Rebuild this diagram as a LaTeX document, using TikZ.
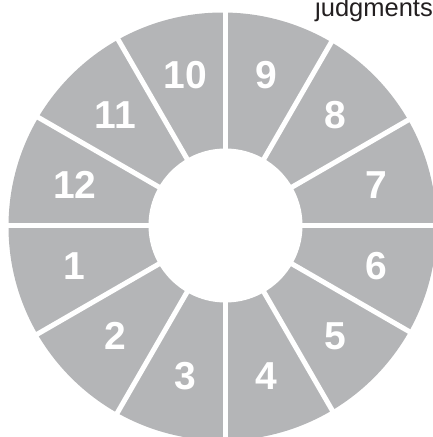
\documentclass[tikz,border=0pt]{standalone}
\usepackage{fontspec}
\setmainfont{Liberation Sans}
\usepackage{tikz}
\definecolor{dialgray}{RGB}{180,181,183}
\definecolor{textdark}{RGB}{35,31,32}

\begin{document}
\begin{tikzpicture}[
  x=1pt, y=1pt,
  num/.style={text=white, font=\fontsize{39}{39}\selectfont\bfseries, inner sep=0pt},
  gap/.style={white, line width=5pt},
  caption/.style={text=textdark, font=\fontsize{25.5}{25.5}\selectfont, inner sep=0pt}
  ]
  \useasboundingbox (-225.5,-211.5) rectangle (207.5,225.5);

  % outer disc
  \fill[dialgray] (-3,-1) circle (214);
  % white spokes between sectors
  \foreach \a in {0,30,...,330}
    \draw[gap] (0,0) -- (\a:240);
  % hub
  \fill[white] (0,0) circle (77);

  % sector numbers
  \foreach \k in {1,...,12}
    \node[num] (n\k) at ({165+30*\k}:156) {\k};

  \node[caption, anchor=base west] (judg) at (89.5,208.6) {judgments};
\end{tikzpicture}
\end{document}
